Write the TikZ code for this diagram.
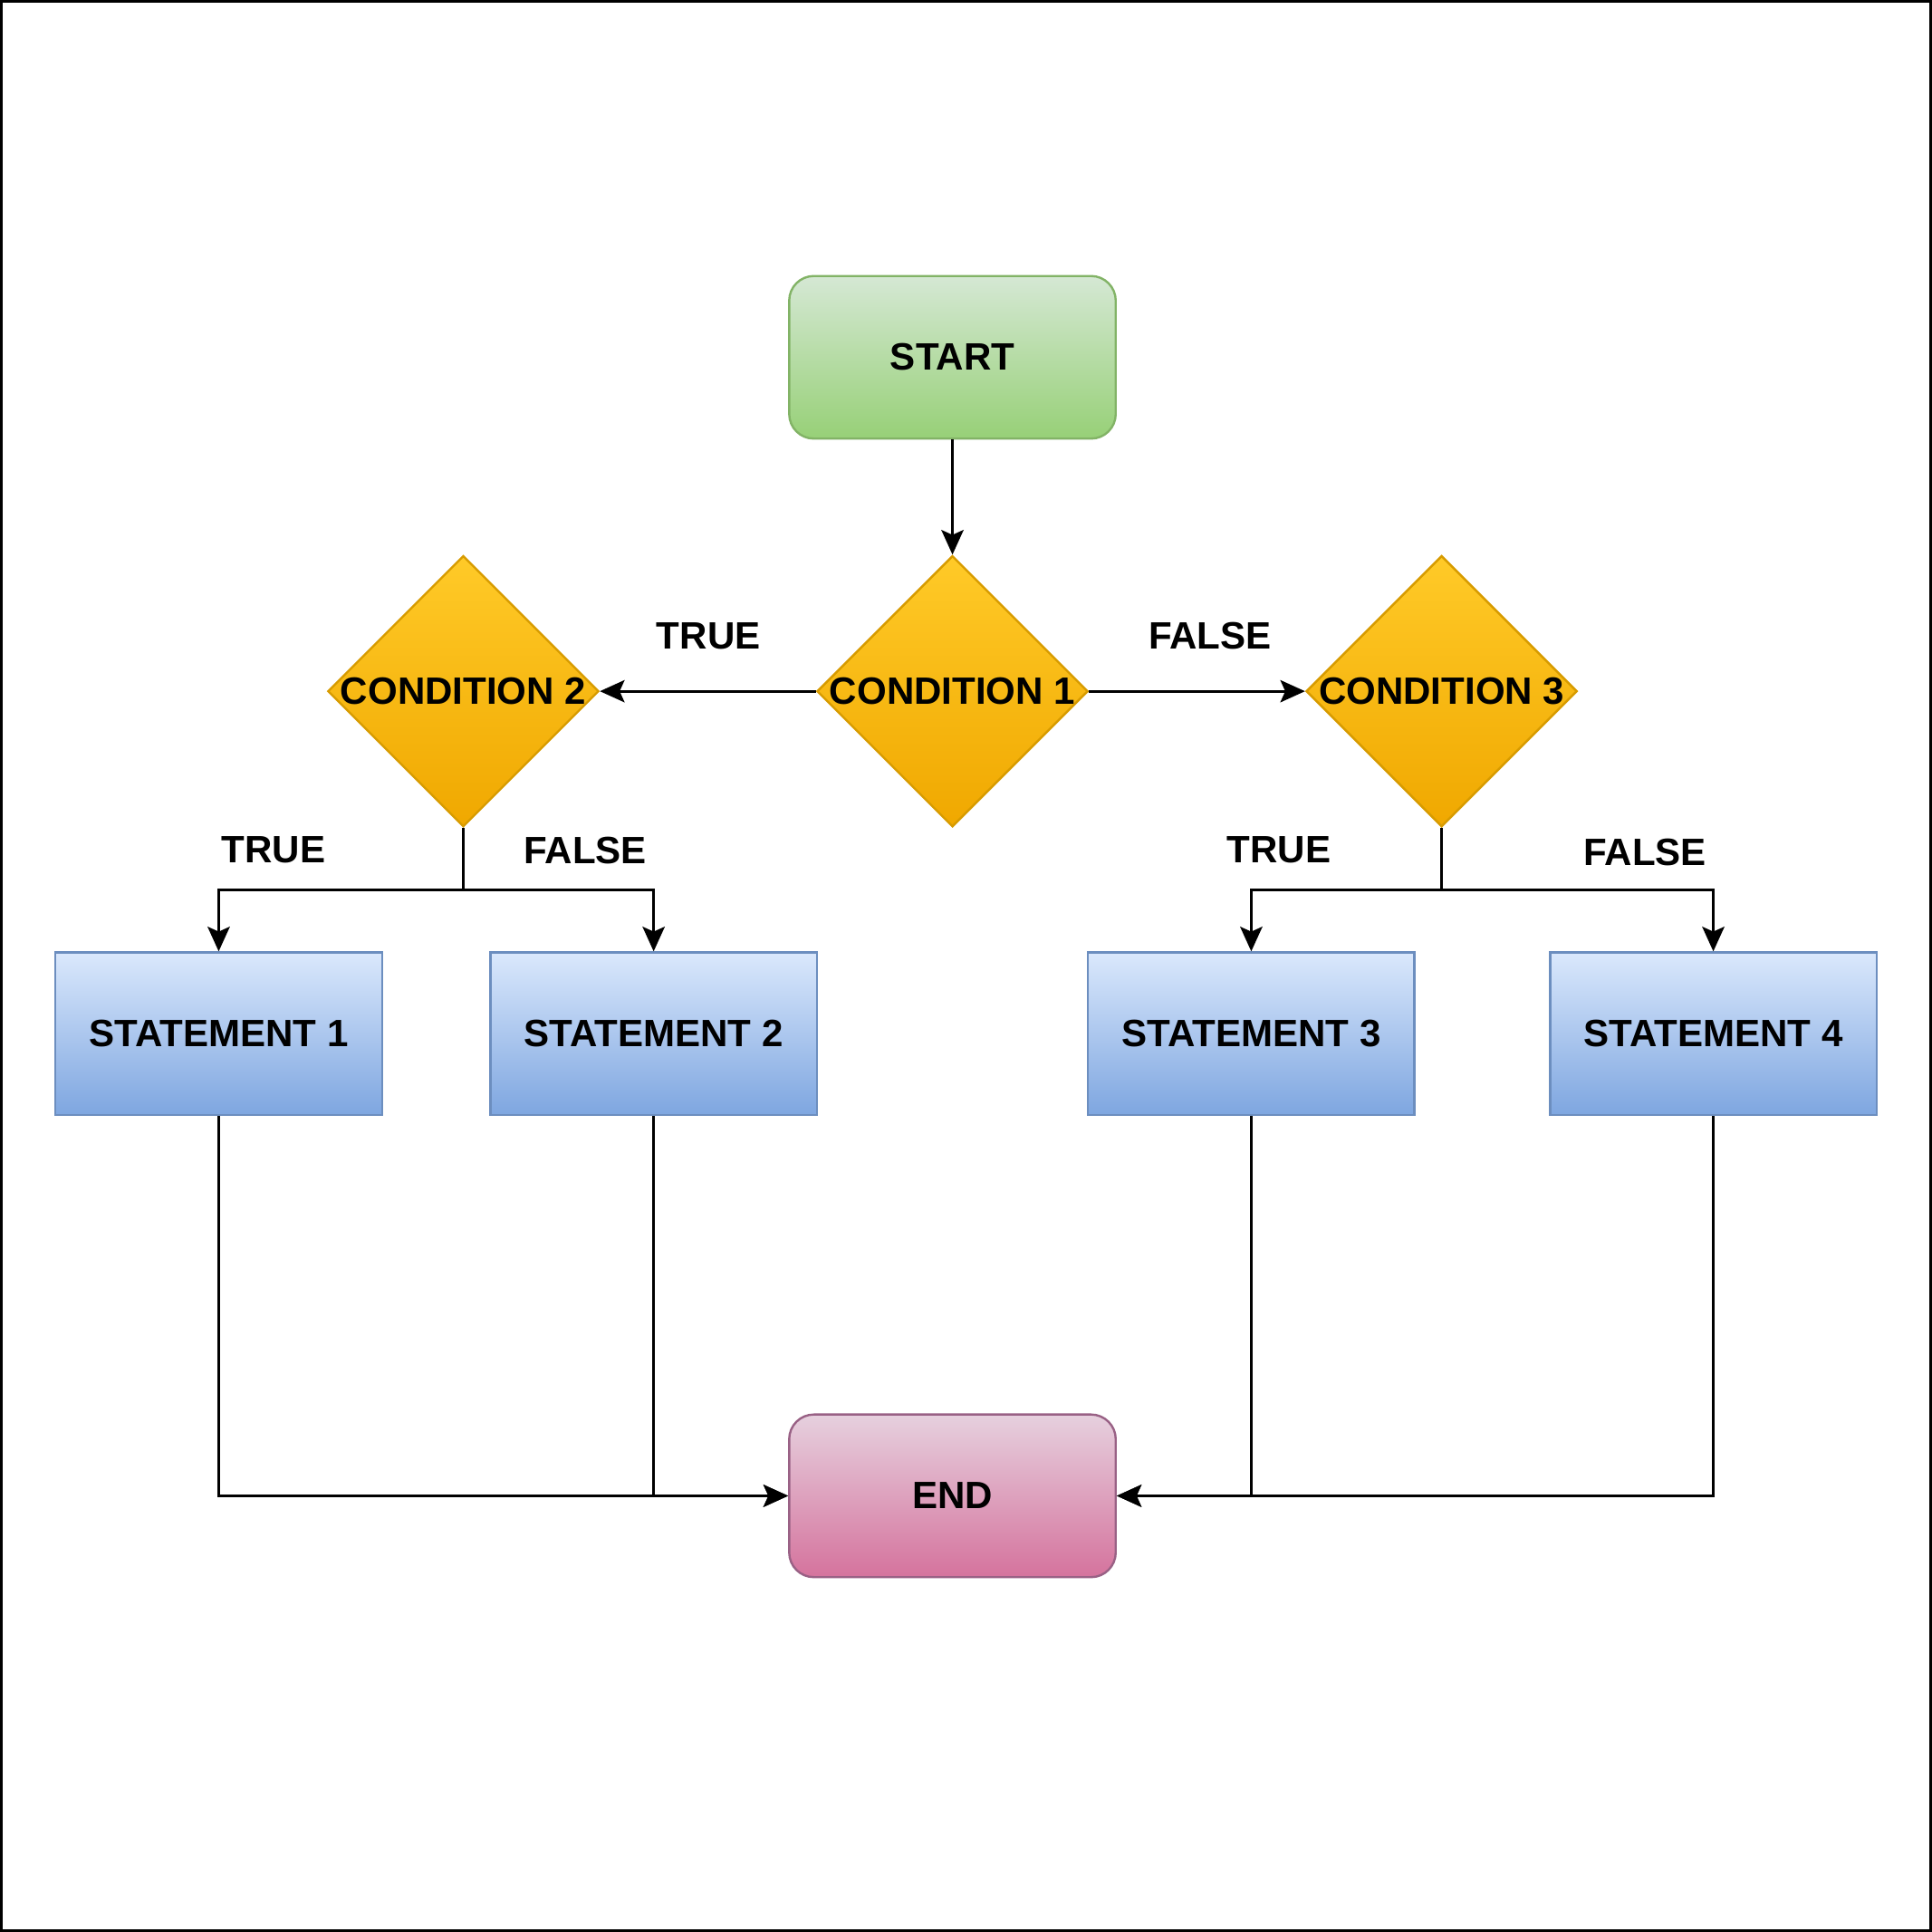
\documentclass[tikz,border=0pt]{standalone}
\usepackage{fontspec}
\setmainfont{Liberation Sans}
\usetikzlibrary{shapes.geometric,arrows.meta}
\definecolor{gfill1}{HTML}{D5E8D4}
\definecolor{gfill2}{HTML}{97D077}
\definecolor{gstroke}{HTML}{82B366}
\definecolor{yfill1}{HTML}{FFCA28}
\definecolor{yfill2}{HTML}{F0A800}
\definecolor{ystroke}{HTML}{D79B00}
\definecolor{bfill1}{HTML}{DAE8FC}
\definecolor{bfill2}{HTML}{7EA6E0}
\definecolor{bstroke}{HTML}{6C8EBF}
\definecolor{pfill1}{HTML}{E6D0DE}
\definecolor{pfill2}{HTML}{D5739D}
\definecolor{pstroke}{HTML}{996185}
\tikzset{
  lbl/.style={font=\fontsize{8.8}{10}\selectfont\bfseries, text=black, inner sep=0},
  term/.style={lbl, rounded corners=0.2cm, minimum width=2.65cm, minimum height=1.32cm, line width=0.5pt},
  startbox/.style={term, draw=gstroke, top color=gfill1, bottom color=gfill2},
  endbox/.style={term, draw=pstroke, top color=pfill1, bottom color=pfill2},
  stmt/.style={lbl, minimum width=2.65cm, minimum height=1.32cm, draw=bstroke, top color=bfill1, bottom color=bfill2, line width=0.5pt},
  cond/.style={lbl, diamond, minimum width=2.2cm, minimum height=2.2cm, draw=ystroke, top color=yfill1, bottom color=yfill2, line width=0.5pt},
  conn/.style={line width=0.6pt, draw=black},
  arr/.style={conn, -{Stealth[length=0.2cm, width=0.18cm, inset=0.04cm]}}
}
\begin{document}
\begin{tikzpicture}
\useasboundingbox (0,0) rectangle (15.68,-15.68);
\draw[line width=0.022cm] (0.011,-0.011) rectangle (15.669,-15.669);

\node[startbox] (start) at (7.73,-2.90) {START};
\node[cond] (c1) at (7.73,-5.61) {\makebox[0pt]{CONDITION 1}};
\node[cond] (c2) at (3.76,-5.61) {\makebox[0pt]{CONDITION 2}};
\node[cond] (c3) at (11.70,-5.61) {\makebox[0pt]{CONDITION 3}};
\node[stmt] (s1) at (1.775,-8.39) {STATEMENT 1};
\node[stmt] (s2) at (5.305,-8.39) {STATEMENT 2};
\node[stmt] (s3) at (10.155,-8.39) {STATEMENT 3};
\node[stmt] (s4) at (13.905,-8.39) {STATEMENT 4};
\node[endbox] (end) at (7.73,-12.14) {END};

\coordinate (j2) at (3.76,-7.22);
\coordinate (j3) at (11.70,-7.22);

\draw[arr] (start.south) -- (c1.north);
\draw[arr] (c1.west) -- (c2.east);
\draw[arr] (c1.east) -- (c3.west);
\draw[conn] (c2.south) -- (j2);
\draw[arr] (j2) -| (s1.north);
\draw[arr] (j2) -| (s2.north);
\draw[conn] (c3.south) -- (j3);
\draw[arr] (j3) -| (s3.north);
\draw[arr] (j3) -| (s4.north);
\draw[arr] (s1.south) |- (end.west);
\draw[arr] (s2.south) |- (end.west);
\draw[arr] (s3.south) |- (end.east);
\draw[arr] (s4.south) |- (end.east);

\node[lbl] (t1) at (5.75,-5.16) {TRUE};
\node[lbl] (f1) at (9.82,-5.16) {FALSE};
\node[lbl] (t2) at (2.22,-6.90) {TRUE};
\node[lbl] (f2) at (4.75,-6.90) {FALSE};
\node[lbl] (t3) at (10.38,-6.90) {TRUE};
\node[lbl] (f3) at (13.35,-6.92) {FALSE};
\end{tikzpicture}
\end{document}
